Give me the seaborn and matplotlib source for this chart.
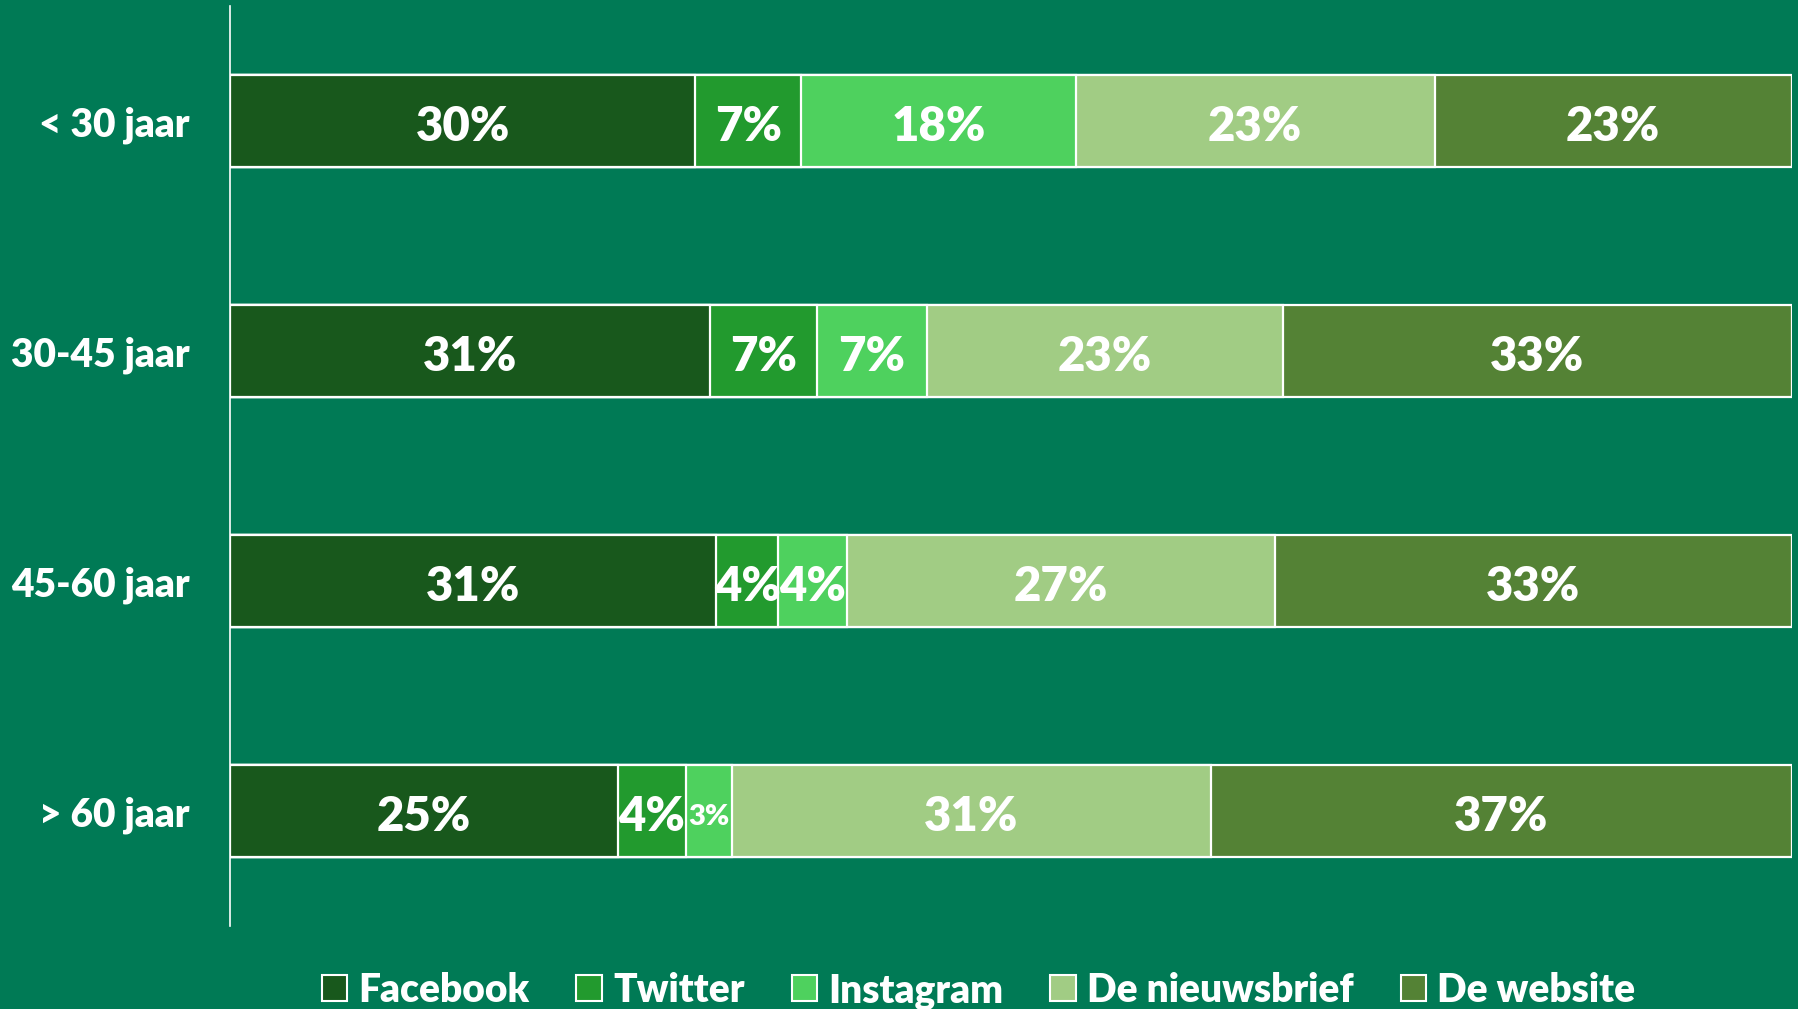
import numpy as np
import pandas as pd
import seaborn as sns
import matplotlib.pyplot as plt
from matplotlib.patches import Patch

groepen = ["< 30 jaar", "30-45 jaar", "45-60 jaar", "> 60 jaar"]
kanalen = ["Facebook", "Twitter", "Instagram", "De nieuwsbrief", "De website"]
facebook = [29.8, 30.7, 31.1, 24.8]
twitter = [6.8, 6.9, 4.0, 4.4]
instagram = [17.6, 7.0, 4.4, 2.9]
nieuwsbrief = [23.0, 22.8, 27.4, 30.7]
website = [22.9, 32.6, 33.1, 37.2]
kleuren = ["#18581C", "#229A2E", "#4ED15E", "#A1CC84", "#548235"]
achtergrond = "#007A55"

sns.set_theme(style="white")
plt.rcParams["font.family"] = ["Lato", "DejaVu Sans"]
plt.rcParams["font.weight"] = "bold"

df = pd.DataFrame({"groep": groepen, "Facebook": facebook, "Twitter": twitter,
                   "Instagram": instagram, "De nieuwsbrief": nieuwsbrief,
                   "De website": website})
waarden = df[kanalen]
waarden = waarden.div(waarden.sum(axis=1), axis=0) * 100  # 100% gestapeld
cum = waarden.cumsum(axis=1)

fig = plt.figure(figsize=(17.99, 10.09), dpi=100, facecolor=achtergrond)
ax = fig.add_axes([0.128, 0.082, 0.868, 0.912])
ax.set_facecolor(achtergrond)

# stapelen: van achter (totaal) naar voren
for i in range(len(kanalen) - 1, -1, -1):
    sns.barplot(x=cum[kanalen[i]].values, y=df["groep"], orient="h",
                color=kleuren[i], width=0.4, edgecolor="white",
                linewidth=1.6, saturation=1, ax=ax)

# labels in het midden van elk segment
for r in range(len(groepen)):
    start = 0
    for k in kanalen:
        w = waarden.loc[r, k]
        size = 34 if w > 3.5 else 21
        ax.text(start + w / 2, r + 0.025, f"{round(df.loc[r, k])}%", ha="center",
                va="center", color="white", fontsize=size, fontweight="heavy")
        start += w

ax.set_xlim(0, 100)
ax.set_ylim(3.5, -0.5)
ax.set_xlabel("")
ax.set_ylabel("")
ax.set_xticks([])
ax.tick_params(axis="y", length=0, pad=29, labelsize=28, labelcolor="white")
for t in ax.get_yticklabels():
    t.set_fontweight("heavy")
for s in ["top", "right", "bottom"]:
    ax.spines[s].set_visible(False)
ax.spines["left"].set_color("white")
ax.spines["left"].set_linewidth(1.2)

handles = [Patch(facecolor=c, edgecolor="white", linewidth=1.5) for c in kleuren]
leg = fig.legend(handles, kanalen, loc="center", bbox_to_anchor=(0.544, 0.018),
                 ncol=5, frameon=False, fontsize=28, handlelength=0.65,
                 handleheight=0.65, handletextpad=0.3, columnspacing=1.2)
for t in leg.get_texts():
    t.set_color("white")
    t.set_fontweight("heavy")

fig.savefig("out.png", dpi=100, facecolor=achtergrond)
